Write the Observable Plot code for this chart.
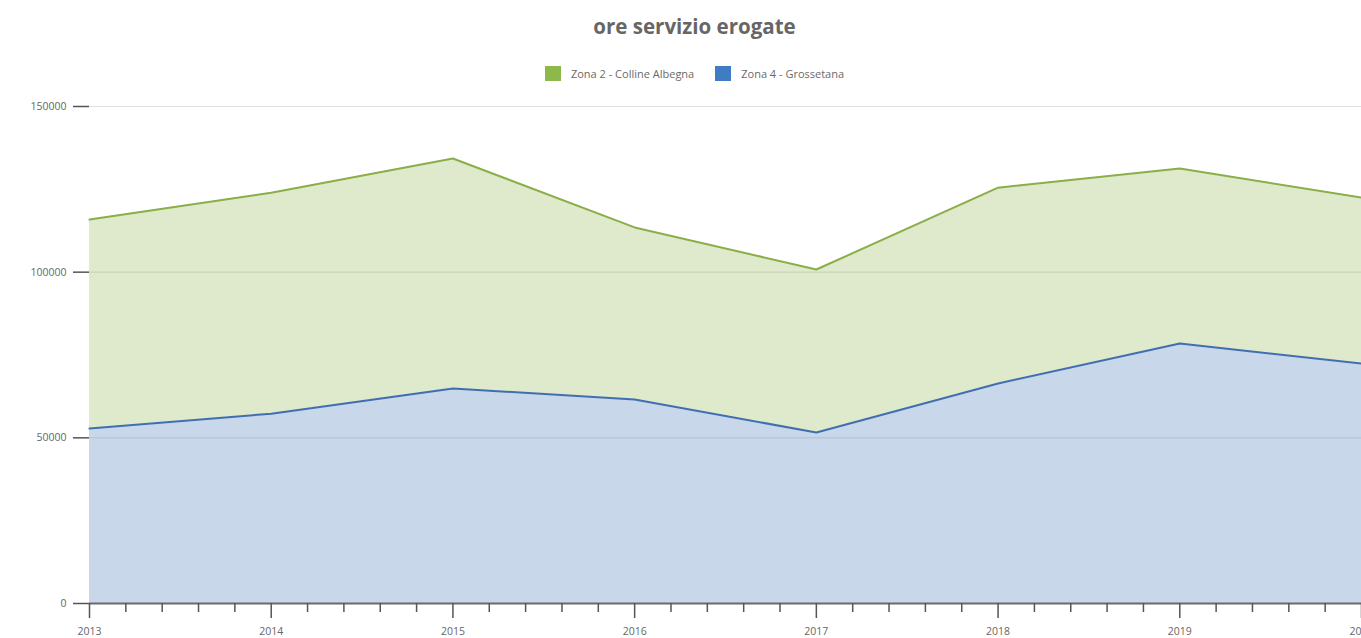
<!DOCTYPE html>
<html>
<head>
<meta charset="utf-8">
<script src="https://cdn.jsdelivr.net/npm/d3@7"></script>
<script src="https://cdn.jsdelivr.net/npm/@observablehq/plot@0.6"></script>
<style>
  html, body { margin: 0; padding: 0; background: #fff; overflow: hidden; }
  body { font-family: "Open Sans", sans-serif; width: 1361px; }
  #title {
    box-sizing: border-box; width: 1361px; padding: 13px 0 0 28px; height: 39px;
    text-align: center; font-weight: bold; font-size: 20.5px; line-height: 26px; color: #666;
  }
  #legend {
    box-sizing: border-box; width: 1361px; padding: 23px 0 0 28px; height: 46px;
    display: flex; justify-content: center; gap: 21px; font-size: 11px; line-height: 16px; color: #6a6a6a;
  }
  #legend .item { display: flex; align-items: center; gap: 10px; }
  #legend .sw { width: 16px; height: 15px; display: inline-block; }
  #chart svg { display: block; }
</style>
</head>
<body>
<div id="title">ore servizio erogate</div>
<div id="legend"></div>
<div id="chart"></div>
<script>
// Yearly service hours delivered, per zone
const years = [2013, 2014, 2015, 2016, 2017, 2018, 2019, 2020];
const zona2 = [63100, 66700, 69400, 51900, 49200, 59100, 52800, 50100];
const zona4 = [52800, 57300, 64900, 61600, 51600, 66400, 78500, 72400];
const seriesNames = ["Zona 2 - Colline Albegna", "Zona 4 - Grossetana"];
const yTicks = [0, 50000, 100000, 150000];

const lineColors = ["#8aae48", "#3f6fb0"];
const fillColors = ["#dfe9cb", "#c8d7ea"];
const swatchColors = ["#8db84a", "#3f7cc4"];

// Legend
const legend = document.getElementById("legend");
seriesNames.forEach((name, i) => {
  const item = document.createElement("div");
  item.className = "item";
  const sw = document.createElement("span");
  sw.className = "sw";
  sw.style.background = swatchColors[i];
  const label = document.createElement("span");
  label.textContent = name;
  item.append(sw, label);
  legend.append(item);
});

// Zona 4 sits at the bottom, Zona 2 stacked on top of it
const rows = years.map((year, i) => ({year, base: zona4[i], top: zona4[i] + zona2[i]}));

// minor ticks: four between each pair of years
const minorTicks = [];
for (let y = years[0]; y < years[years.length - 1]; y++) {
  for (let k = 1; k < 5; k++) minorTicks.push(y + k / 5);
}

const chart = Plot.plot({
  width: 1361,
  height: 560,
  marginTop: 21,
  marginBottom: 42,
  marginLeft: 89,
  marginRight: 0,
  style: {fontFamily: "Open Sans, sans-serif", fontSize: "10.5px", color: "#555", background: "#fff"},
  x: {type: "linear", domain: [years[0], years[years.length - 1]]},
  y: {domain: [0, 150000]},
  marks: [
    Plot.areaY(rows, {x: "year", y1: 0, y2: "base", fill: fillColors[1]}),
    Plot.areaY(rows, {x: "year", y1: "base", y2: "top", fill: fillColors[0]}),
    Plot.gridY(yTicks.filter(d => d > 0), {stroke: "#808080", strokeOpacity: 0.25, strokeWidth: 1}),
    Plot.lineY(rows, {x: "year", y: "base", stroke: lineColors[1], strokeWidth: 2}),
    Plot.lineY(rows, {x: "year", y: "top", stroke: lineColors[0], strokeWidth: 2}),
    Plot.ruleY([0], {stroke: "#6a6a6a", strokeWidth: 2}),
    Plot.axisY({ticks: yTicks, tickFormat: d => String(d), tickSize: 16, tickPadding: 7,
      label: null, stroke: "#555", strokeWidth: 1.5, fill: "#666"}),
    Plot.axisX({anchor: "bottom", ticks: years, tickFormat: d => String(d), tickSize: 15, tickPadding: 9,
      label: null, stroke: "#555", strokeWidth: 1.5, fill: "#666"}),
    Plot.axisX({anchor: "bottom", ticks: minorTicks, tickFormat: () => "", tickSize: 9,
      label: null, stroke: "#555", strokeWidth: 1.5})
  ]
});
document.getElementById("chart").append(chart);
</script>
</body>
</html>
